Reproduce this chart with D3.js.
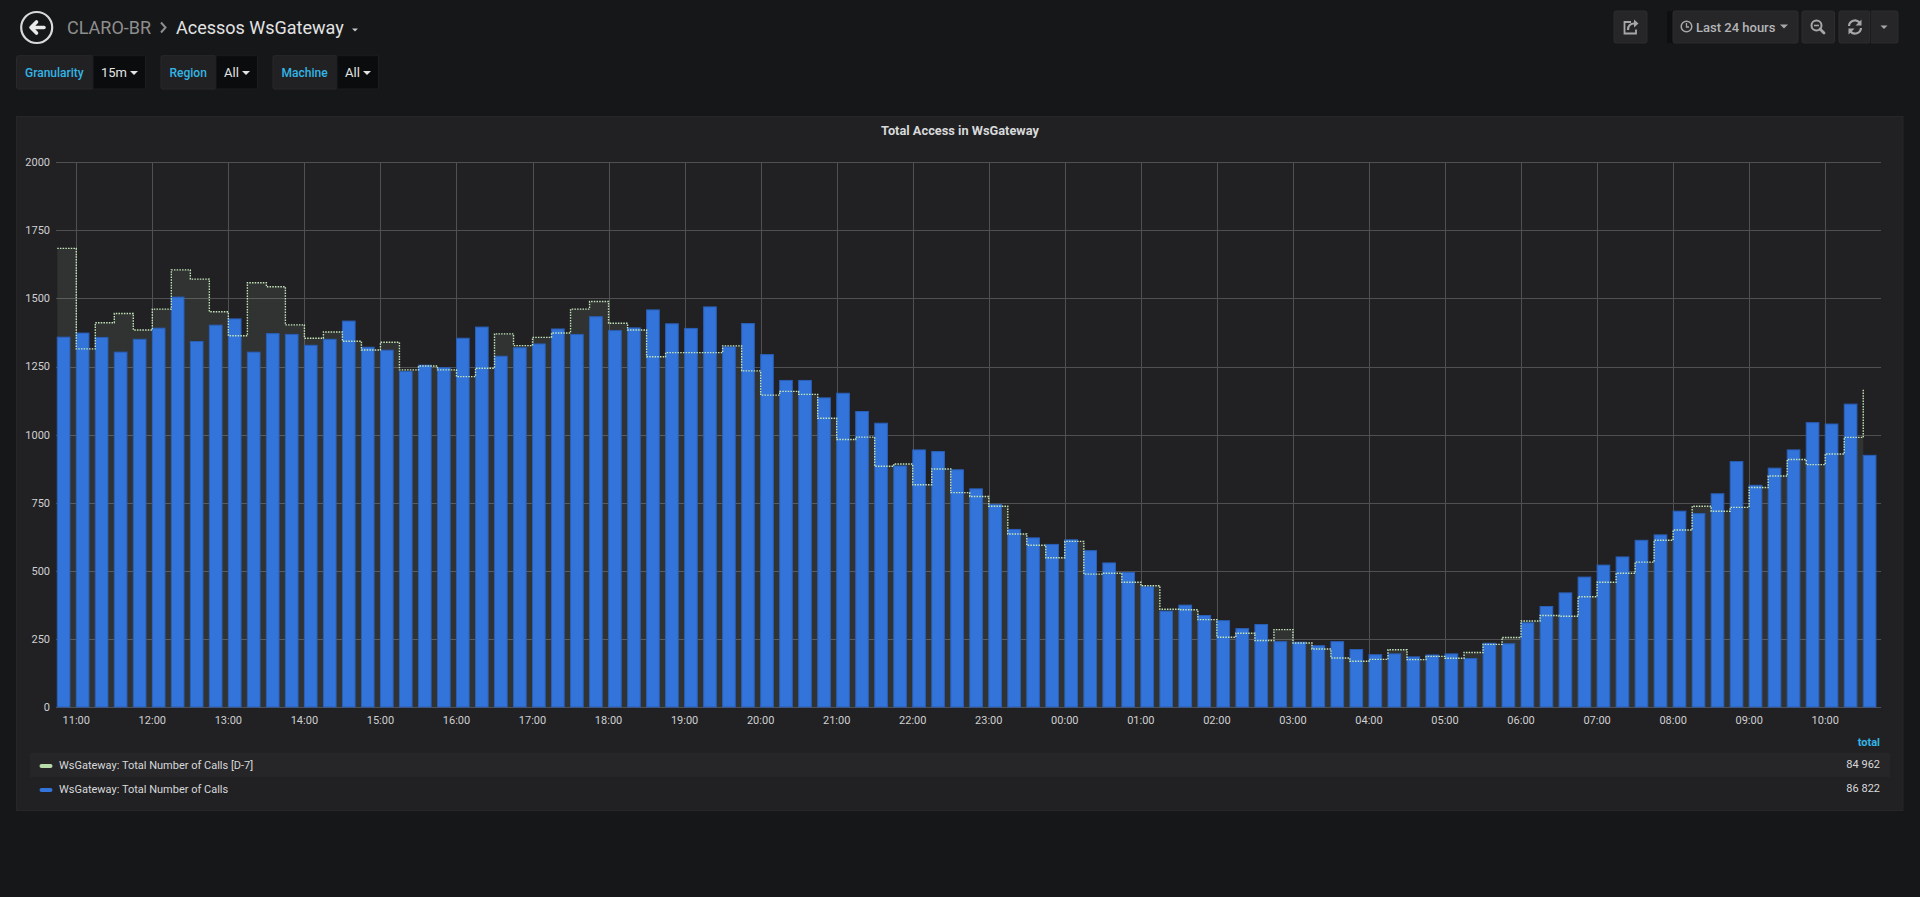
<!DOCTYPE html>
<html>
<head>
<meta charset="utf-8">
<script src="https://cdn.jsdelivr.net/npm/d3@7"></script>
<style>
  html, body { margin: 0; padding: 0; background: #161719; overflow: hidden; }
  svg { display: block; font-family: Roboto, "Open Sans", sans-serif; }
</style>
</head>
<body>
<svg id="dash" width="1920" height="897"></svg>
<script>
// values, one per 15 minute bucket starting 10:45
var callsD7 = [
  1684, 1315, 1411, 1445, 1384, 1461, 1605, 1571, 1451, 1363,
  1558, 1543, 1403, 1354, 1377, 1343, 1311, 1339, 1238, 1252,
  1238, 1213, 1244, 1370, 1327, 1357, 1373, 1461, 1489, 1409,
  1384, 1286, 1301, 1301, 1301, 1326, 1234, 1145, 1159, 1148,
  1060, 982, 991, 884, 892, 816, 874, 787, 773, 737,
  635, 594, 548, 608, 488, 491, 458, 445, 359, 357,
  321, 256, 271, 244, 284, 235, 213, 180, 168, 175,
  210, 174, 186, 179, 200, 230, 255, 316, 336, 333,
  405, 458, 491, 532, 612, 650, 737, 719, 733, 806,
  848, 909, 890, 929, 990, 1169
];
var calls = [
  1358, 1373, 1357, 1303, 1350, 1391, 1505, 1342, 1402, 1425,
  1303, 1371, 1368, 1328, 1350, 1417, 1321, 1310, 1232, 1255,
  1246, 1354, 1395, 1288, 1319, 1333, 1388, 1368, 1433, 1382,
  1392, 1458, 1407, 1390, 1469, 1322, 1408, 1294, 1199, 1199,
  1135, 1152, 1085, 1042, 885, 944, 938, 871, 801, 744,
  652, 621, 597, 614, 574, 529, 494, 441, 352, 374,
  336, 317, 288, 303, 240, 238, 225, 240, 211, 192,
  195, 184, 191, 195, 178, 234, 232, 309, 369, 419,
  477, 521, 551, 612, 632, 719, 710, 783, 901, 814,
  877, 944, 1044, 1039, 1112, 924
];
var seriesNames = ['WsGateway: Total Number of Calls [D-7]', 'WsGateway: Total Number of Calls'];
var legendTotals = ['84 962', '86 822'];
var yTicks = [0, 250, 500, 750, 1000, 1250, 1500, 1750, 2000];
var rangeStartLabel = '2019-03-11 10:44';
var firstBucketLabel = '2019-03-11 10:45';
var variables = [['Granularity', '15m'], ['Region', 'All'], ['Machine', 'All']];

var parse = d3.timeParse('%Y-%m-%d %H:%M');
var rangeStart = parse(rangeStartLabel);
var rangeEnd = d3.timeHour.offset(rangeStart, 24);
var firstBucket = parse(firstBucketLabel);
var bucketTimes = calls.map(function(d, i){ return d3.timeMinute.offset(firstBucket, 15 * i); });

var svg = d3.select('#dash');
var plot = {left: 56, right: 1881, top: 162.3, bottom: 707};

var x = d3.scaleTime().domain([rangeStart, rangeEnd]).range([plot.left, plot.right]);
var y = d3.scaleLinear().domain([0, 2000]).range([plot.bottom, plot.top]);

// ---- top navigation
var nav = svg.append('g');
nav.append('circle').attr('cx', 36.7).attr('cy', 27.5).attr('r', 15.5)
  .attr('fill', 'none').attr('stroke', '#d8d9da').attr('stroke-width', 2.2);
nav.append('path').attr('d', 'M44,27.5 H31.5 M36.5,22 L31,27.5 L36.5,33')
  .attr('fill', 'none').attr('stroke', '#e9e9e9').attr('stroke-width', 3.6)
  .attr('stroke-linecap', 'round').attr('stroke-linejoin', 'round');
nav.append('text').attr('x', 67).attr('y', 27.5).attr('dy', '0.35em')
  .attr('font-size', 18).attr('fill', '#8e8e8e').text('CLARO-BR');
nav.append('path').attr('d', 'M161,22.5 L165.5,27.5 L161,32.5')
  .attr('fill', 'none').attr('stroke', '#8e8e8e').attr('stroke-width', 2);
nav.append('text').attr('x', 176).attr('y', 27.5).attr('dy', '0.35em')
  .attr('font-size', 18).attr('fill', '#e3e3e3').text('Acessos WsGateway');
nav.append('path').attr('d', 'M352,28.5 L358,28.5 L355,31.5 Z').attr('fill', '#c8c8c8');

// right side buttons
function button(x0, x1){
  nav.append('rect').attr('x', x0).attr('y', 11).attr('width', x1 - x0).attr('height', 32)
    .attr('rx', 2).attr('fill', '#262628').attr('stroke', '#2c2c2f');
}
button(1614, 1647);
nav.append('rect').attr('x', 1667).attr('y', 11).attr('width', 6).attr('height', 32).attr('fill', '#0e0f11');
button(1673, 1798);
button(1802, 1834.5);
button(1839, 1870);
button(1870, 1898);
nav.append('line').attr('x1', 1870.5).attr('x2', 1870.5).attr('y1', 11).attr('y2', 43).attr('stroke', '#1c1c1e');

var icon = '#a6a7a9';
nav.append('path').attr('d', 'M1631,22 H1624.5 V33.5 H1636 V29.5')
  .attr('fill', 'none').attr('stroke', icon).attr('stroke-width', 1.8);
nav.append('path').attr('d', 'M1628,30 Q1628,23.5 1634.5,23.5')
  .attr('fill', 'none').attr('stroke', icon).attr('stroke-width', 2.2);
nav.append('path').attr('d', 'M1634,19.5 L1638.5,23.5 L1634,27.5 Z').attr('fill', icon);

nav.append('circle').attr('cx', 1686.5).attr('cy', 26.5).attr('r', 5.3)
  .attr('fill', 'none').attr('stroke', icon).attr('stroke-width', 1.5);
nav.append('path').attr('d', 'M1686.5,23 V27 H1689').attr('fill', 'none').attr('stroke', icon).attr('stroke-width', 1.3);
nav.append('text').attr('x', 1696).attr('y', 27).attr('dy', '0.35em')
  .attr('font-size', 13).attr('font-weight', 500).attr('fill', '#b4b5b7').text('Last 24 hours');
nav.append('path').attr('d', 'M1780,24.5 L1788,24.5 L1784,28.5 Z').attr('fill', icon);

nav.append('circle').attr('cx', 1816.5).attr('cy', 25.5).attr('r', 5)
  .attr('fill', 'none').attr('stroke', icon).attr('stroke-width', 2);
nav.append('path').attr('d', 'M1820,29 L1824,33').attr('stroke', icon).attr('stroke-width', 2.8).attr('stroke-linecap', 'round');
nav.append('path').attr('d', 'M1814,25.5 H1819').attr('stroke', icon).attr('stroke-width', 1.6);

nav.append('path').attr('d', 'M1849,26 A6,6 0 0 1 1859.5,22.5 M1861,28 A6,6 0 0 1 1850.5,31.5')
  .attr('fill', 'none').attr('stroke', icon).attr('stroke-width', 2.2);
nav.append('path').attr('d', 'M1861.5,19.5 V25.5 H1855.5 Z M1848.5,34.5 V28.5 H1854.5 Z').attr('fill', icon);
nav.append('path').attr('d', 'M1880.5,25.5 L1887.5,25.5 L1884,29 Z').attr('fill', icon);

// ---- template variables
var varLayout = [[16.5, 93, 145.5], [161, 216, 257.5], [273, 337, 378.5]];
variables.forEach(function(v, i){
  var l = varLayout[i];
  var g = svg.append('g');
  g.append('rect').attr('x', l[0]).attr('y', 55.7).attr('width', l[1] - l[0]).attr('height', 33.3)
    .attr('rx', 2).attr('fill', '#212124').attr('stroke', '#29292c');
  g.append('rect').attr('x', l[1]).attr('y', 55.7).attr('width', l[2] - l[1]).attr('height', 33.3)
    .attr('fill', '#0b0c0e').attr('stroke', '#1d1d20');
  g.append('text').attr('x', l[0] + 8.5).attr('y', 72.5).attr('dy', '0.35em')
    .attr('font-size', 12).attr('font-weight', 500).attr('fill', '#33b5e5').text(v[0]);
  g.append('text').attr('x', l[1] + 8).attr('y', 72.5).attr('dy', '0.35em')
    .attr('font-size', 13).attr('fill', '#e3e3e3').text(v[1]);
  var cx = l[2] - 11.5;
  g.append('path').attr('d', 'M' + (cx - 4) + ',71 L' + (cx + 4) + ',71 L' + cx + ',75 Z').attr('fill', '#e3e3e3');
});

// ---- panel
svg.append('rect').attr('x', 16.5).attr('y', 116.5).attr('width', 1886.5).attr('height', 694)
  .attr('fill', '#212124').attr('stroke', '#262628');
svg.append('text').attr('x', 960).attr('y', 130.7).attr('dy', '0.35em').attr('text-anchor', 'middle')
  .attr('font-size', 12.8).attr('font-weight', 700).attr('fill', '#d8d9da').text('Total Access in WsGateway');

var chart = svg.append('g');
var hourTicks = x.ticks(d3.timeHour.every(1)).filter(function(t){ return x(t) > plot.left + 2; });

// grid
chart.append('g').selectAll('line').data(yTicks).join('line')
  .attr('x1', plot.left).attr('x2', plot.right)
  .attr('y1', function(d){ return Math.round(y(d)) + 0.5; })
  .attr('y2', function(d){ return Math.round(y(d)) + 0.5; })
  .attr('stroke', '#505053');
chart.append('g').selectAll('line').data(hourTicks).join('line')
  .attr('x1', function(d){ return Math.round(x(d)) + 0.5; })
  .attr('x2', function(d){ return Math.round(x(d)) + 0.5; })
  .attr('y1', plot.top).attr('y2', plot.bottom)
  .attr('stroke', '#505053');

// y labels
chart.append('g').selectAll('text').data(yTicks).join('text')
  .attr('x', 50).attr('y', function(d){ return y(d); }).attr('dy', '0.35em')
  .attr('text-anchor', 'end').attr('font-size', 11).attr('fill', '#cfd0d1')
  .text(function(d){ return d; });

// x labels
var fmt = d3.timeFormat('%H:%M');
chart.append('g').selectAll('text').data(hourTicks).join('text')
  .attr('x', function(d){ return x(d); }).attr('y', 720).attr('dy', '0.35em')
  .attr('text-anchor', 'middle').attr('font-size', 11).attr('fill', '#cfd0d1')
  .text(fmt);

// D-7 series: staircase area + dotted line
var d7Points = callsD7.map(function(v, i){ return [bucketTimes[i], v]; });
var area = d3.area().curve(d3.curveStepAfter)
  .x(function(d){ return x(d[0]); }).y0(y(0)).y1(function(d){ return y(d[1]); });
var line = d3.line().curve(d3.curveStepAfter)
  .x(function(d){ return x(d[0]); }).y(function(d){ return y(d[1]); });

chart.append('path').datum(d7Points).attr('d', area)
  .attr('fill', '#b7dbab').attr('fill-opacity', 0.1);

// current series: bars, 10 minutes wide inside each 15 minute bucket
chart.append('g').selectAll('rect').data(calls).join('rect')
  .attr('x', function(d, i){ return x(bucketTimes[i]); })
  .attr('width', function(d, i){ return x(d3.timeMinute.offset(bucketTimes[i], 10)) - x(bucketTimes[i]); })
  .attr('y', function(d){ return y(d); })
  .attr('height', function(d){ return y(0) - y(d); })
  .attr('fill', '#3274d9').attr('stroke', '#2a5fb8').attr('stroke-width', 1);

chart.append('path').datum(d7Points).attr('d', line)
  .attr('fill', 'none').attr('stroke', '#c4e4b9').attr('stroke-width', 1.4)
  .attr('stroke-dasharray', '1.5,1.2');

// ---- legend
var legend = svg.append('g');
legend.append('text').attr('x', 1880).attr('y', 742).attr('dy', '0.35em').attr('text-anchor', 'end')
  .attr('font-size', 11).attr('font-weight', 700).attr('fill', '#33b5e5').text('total');
legend.append('rect').attr('x', 30).attr('y', 753).attr('width', 1860).attr('height', 24).attr('fill', '#262629');
var swatchColors = ['#b7dbab', '#3274d9'];
seriesNames.forEach(function(name, i){
  var cy = 765.5 + 24 * i;
  legend.append('rect').attr('x', 39.5).attr('y', cy - 1.5).attr('width', 13).attr('height', 4)
    .attr('rx', 2).attr('fill', swatchColors[i]);
  legend.append('text').attr('x', 59).attr('y', cy).attr('dy', '0.35em')
    .attr('font-size', 11).attr('fill', '#d8d9da').text(name);
  legend.append('text').attr('x', 1880).attr('y', cy - 1).attr('dy', '0.35em').attr('text-anchor', 'end')
    .attr('font-size', 11).attr('fill', '#d8d9da').text(legendTotals[i]);
});
</script>
</body>
</html>
